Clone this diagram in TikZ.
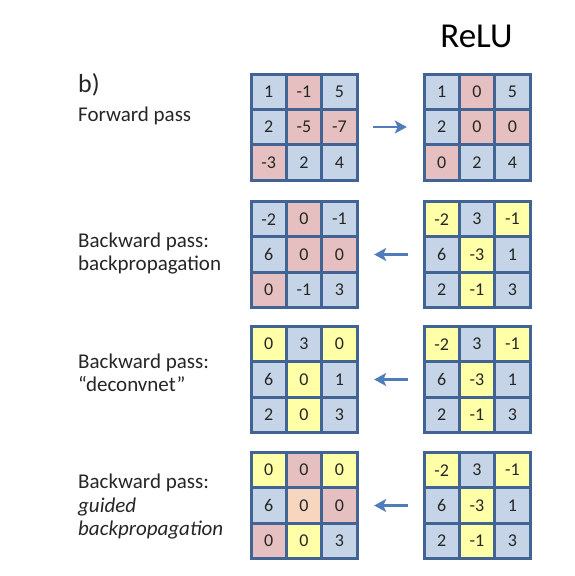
\documentclass[tikz,border=0pt]{standalone}
\usepackage{fontspec}
\setmainfont{Carlito}
\usetikzlibrary{arrows.meta}
\definecolor{gridc}{HTML}{416494}
\definecolor{cb}{HTML}{C6D4E7}
\definecolor{cp}{HTML}{E6C0C0}
\definecolor{cy}{HTML}{FFFFA8}
\definecolor{co}{HTML}{F7D6BF}
\definecolor{arrc}{HTML}{4F7CBA}
\tikzset{
  cellbox/.style={draw=gridc, line width=3pt, line join=miter, minimum size=35.333pt, inner sep=0pt, font=\fontsize{18}{21}\selectfont, text=black!85},
  gridbox/.style={minimum size=106pt, inner sep=0pt},
  lbl/.style={anchor=base west, inner sep=0pt, font=\fontsize{21}{25}\selectfont, text=black!85},
  passarrow/.style={draw=arrc, line width=2.6pt, -{Stealth[length=12pt,width=13pt,inset=3pt]}, shorten <=16pt, shorten >=17pt}
}
\newcommand\mygrid[4]{%
  \node[gridbox] (#1) at ({#2+53},{#3+53}) {};
  \foreach \c/\v [count=\k from 0] in {#4} {
    \pgfmathtruncatemacro\rr{div(\k,3)}
    \pgfmathtruncatemacro\cc{mod(\k,3)}
    \node[cellbox, fill=\c] (#1-\rr-\cc) at ({#2+(\cc+0.5)*35.333},{#3+(\rr+0.5)*35.333}) {\v};
  }
}
\begin{document}
\begin{tikzpicture}[x=1pt,y=-1pt]
\useasboundingbox (0,0) rectangle (574,576);
\fill[white] (0,0) rectangle (574,576);
% title
\node[anchor=base, inner sep=0pt, font=\fontsize{35}{40}\selectfont] (relu) at (476.5,47) {ReLU};
% labels
\node[lbl, font=\fontsize{26}{30}\selectfont] (b) at (78,92) {b)};
\node[lbl] (l1) at (78,121) {Forward pass};
\node[lbl] (l2a) at (78,247) {Backward pass:};
\node[lbl] (l2b) at (78,270) {backpropagation};
\node[lbl] (l3a) at (78,368) {Backward pass:};
\node[lbl] (l3b) at (78,391) {“deconvnet”};
\node[lbl] (l4a) at (78,488) {Backward pass:};
\node[lbl] (l4b) at (78,512) {\itshape guided};
\node[lbl] (l4c) at (78,535) {\itshape backpropagation};
% row 1
\mygrid{A1}{251}{74}{cb/1,cp/-1,cb/5,cb/2,cp/-5,cp/-7,cp/-3,cb/2,cb/4}
\mygrid{B1}{424}{74}{cb/1,cp/0,cb/5,cb/2,cp/0,cp/0,cp/0,cb/2,cb/4}
% row 2
\mygrid{A2}{251}{201.5}{cb/-2,cp/0,cb/-1,cb/6,cp/0,cp/0,cp/0,cb/-1,cb/3}
\mygrid{B2}{424}{201.5}{cy/-2,cb/3,cy/-1,cb/6,cy/-3,cb/1,cb/2,cy/-1,cb/3}
% row 3
\mygrid{A3}{251}{326.5}{cy/0,cb/3,cy/0,cb/6,cy/0,cb/1,cb/2,cy/0,cb/3}
\mygrid{B3}{424}{326.5}{cy/-2,cb/3,cy/-1,cb/6,cy/-3,cb/1,cb/2,cy/-1,cb/3}
% row 4
\mygrid{A4}{251}{452.5}{cy/0,cp/0,cy/0,cb/6,co/0,cp/0,cp/0,cy/0,cb/3}
\mygrid{B4}{424}{452.5}{cy/-2,cb/3,cy/-1,cb/6,cy/-3,cb/1,cb/2,cy/-1,cb/3}
% arrows
\draw[passarrow] (A1.east) -- (B1.west);
\draw[passarrow] (B2.west) -- (A2.east);
\draw[passarrow] (B3.west) -- (A3.east);
\draw[passarrow] (B4.west) -- (A4.east);
\end{tikzpicture}
\end{document}
